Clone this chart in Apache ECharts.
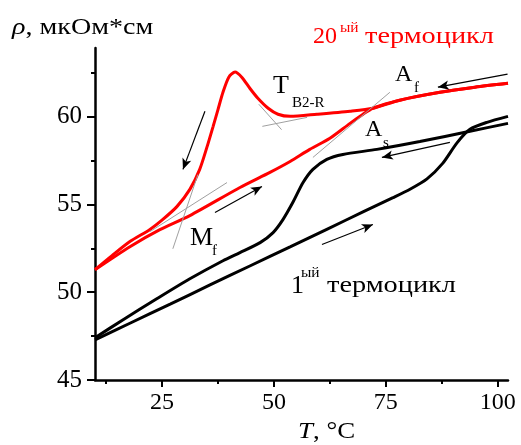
<!DOCTYPE html>
<html><head><meta charset="utf-8">
<script src="https://cdn.jsdelivr.net/npm/echarts@6/dist/echarts.min.js"></script>
<style>html,body{margin:0;padding:0;background:#fff}#c{width:521px;height:445px}</style>
</head><body><div id="c"></div>
<script>
// Axis ticks
const xTickLabels = [25, 50, 75, 100];
const xMinorTicks = [12.5, 37.5, 62.5, 87.5];
const yTickLabels = [45, 50, 55, 60];
const yMinorTicks = [47.5, 52.5, 57.5, 62.5];

// 20th thermocycle, heating (lower red branch)
const red20HeatT = [10.0, 17.8, 24.5, 31.2, 42.4, 49.1, 53.6, 58.0, 62.5, 67.0, 69.9, 72.1, 78.1, 87.1, 94.9, 102.3];
const red20HeatR = [51.28, 52.59, 53.56, 54.36, 55.96, 56.82, 57.44, 58.13, 58.76, 59.61, 60.13, 60.47, 60.93, 61.38, 61.67, 61.89];
// 20th thermocycle, cooling (upper red branch with peak)
const red20CoolT = [102.3, 94.9, 87.1, 78.1, 72.1, 67.0, 59.6, 53.6, 50.9, 48.7, 46.4, 44.6, 42.8, 41.3, 39.9, 38.6, 37.5, 36.4, 35.0, 33.4, 31.2, 28.3, 25.1, 22.2, 17.8, 13.8, 10.0];
const red20CoolR = [61.89, 61.67, 61.38, 60.93, 60.47, 60.30, 60.13, 60.01, 60.13, 60.47, 61.04, 61.61, 62.24, 62.53, 62.24, 61.38, 60.41, 59.44, 58.24, 56.99, 55.85, 54.87, 54.13, 53.56, 52.88, 52.08, 51.28];

// 1st thermocycle, heating (lower black branch)
const blk1HeatT = [10.0, 17.8, 26.8, 35.7, 44.6, 53.6, 61.8, 70.0, 76.6, 80.4, 84.2, 87.7, 90.9, 93.8, 97.6, 102.3];
const blk1HeatR = [47.28, 48.23, 49.32, 50.41, 51.49, 52.58, 53.58, 54.58, 55.38, 55.86, 56.45, 57.33, 58.50, 59.27, 59.67, 60.01];
// 1st thermocycle, cooling (upper black branch)
const blk1CoolT = [102.3, 93.8, 82.6, 73.0, 65.4, 61.8, 58.7, 56.5, 54.2, 52.0, 49.8, 46.9, 42.4, 38.6, 31.2, 23.8, 16.2, 10.0];
const blk1CoolR = [59.61, 59.16, 58.58, 58.13, 57.84, 57.56, 56.99, 56.24, 55.10, 54.13, 53.39, 52.82, 52.25, 51.79, 50.76, 49.62, 48.42, 47.40];

// Tangent construction lines [T1, R1, T2, R2]
const tangentLines = [
  [33.0, 56.7, 27.4, 52.47],
  [39.5, 56.24, 22.3, 53.45],
  [46.6, 60.7, 51.7, 59.25],
  [47.4, 59.44, 57.4, 59.95],
  [58.7, 57.67, 75.9, 61.38]
];
// Direction arrows [T1, R1, T2, R2]
const arrows = [
  [34.57, 60.30, 29.66, 56.99],
  [36.81, 54.53, 47.31, 56.02],
  [102.2, 62.41, 86.63, 61.67],
  [89.31, 58.53, 74.12, 57.67],
  [60.72, 52.71, 72.11, 53.85]
];

const zip = (a, b) => a.map((v, i) => [v, b[i]]);
const FONT = 'Liberation Serif';

const chart = echarts.init(document.getElementById('c'), null, {renderer: 'canvas'});
const gridRect = {left: 95, right: 13, top: 48, bottom: 65};
const lineSeries = (name, data, color, extra) => Object.assign({
  name, type: 'line', data, showSymbol: false, smooth: 0.25,
  lineStyle: {color, width: 3}, itemStyle: {color}, silent: true, z: 3
}, extra || {});
const txt = (x, y, text, size, color, sx, rich) => ({
  type: 'text', x, y, scaleX: sx || 1, silent: true,
  style: Object.assign({text, font: size + 'px ' + FONT, fill: color, verticalAlign: 'middle'}, rich ? {rich} : {})
});
const italic = {i: {fontStyle: 'italic', fontFamily: FONT, fontSize: 24}};

chart.setOption({
  animation: false,
  backgroundColor: '#fff',
  grid: [Object.assign({}, gridRect), Object.assign({}, gridRect)],
  xAxis: [{
    type: 'value', gridIndex: 0, min: 10, max: 102.3,
    axisLine: {show: true, onZero: false, lineStyle: {color: '#000', width: 2.5}},
    axisTick: {show: true, customValues: xTickLabels, length: 7, lineStyle: {color: '#000', width: 2}},
    axisLabel: {customValues: xTickLabels, color: '#000', fontFamily: FONT, fontSize: 24, margin: 11},
    splitLine: {show: false}
  }, {
    type: 'value', gridIndex: 1, min: 10, max: 102.3,
    axisLine: {show: false},
    axisTick: {show: true, customValues: xMinorTicks, length: 4, lineStyle: {color: '#000', width: 2}},
    axisLabel: {show: false}, splitLine: {show: false}
  }],
  yAxis: [{
    type: 'value', gridIndex: 0, min: 45, max: 63.9,
    axisLine: {show: true, onZero: false, lineStyle: {color: '#000', width: 2.5}},
    axisTick: {show: true, customValues: yTickLabels, length: 8, lineStyle: {color: '#000', width: 2}},
    axisLabel: {customValues: yTickLabels, color: '#000', fontFamily: FONT, fontSize: 25, margin: 13},
    splitLine: {show: false}
  }, {
    type: 'value', gridIndex: 1, min: 45, max: 63.9,
    axisLine: {show: false},
    axisTick: {show: true, customValues: yMinorTicks, length: 4, lineStyle: {color: '#000', width: 2}},
    axisLabel: {show: false}, splitLine: {show: false}
  }],
  series: [
    lineSeries('blk1Heat', zip(blk1HeatT, blk1HeatR), '#000', {
      markLine: {
        silent: true, animation: false, label: {show: false},
        data: tangentLines.map(l => [
          {coord: [l[0], l[1]], symbol: 'none', lineStyle: {color: '#a0a0a0', width: 1, type: 'solid'}},
          {coord: [l[2], l[3]], symbol: 'none'}
        ]).concat(arrows.map(a => [
          {coord: [a[0], a[1]], symbol: 'none', lineStyle: {color: '#000', width: 1.2, type: 'solid'}},
          {coord: [a[2], a[3]], symbol: 'arrow', symbolSize: [7, 11]}
        ])),
        emphasis: {disabled: true}
      }
    }),
    lineSeries('blk1Cool', zip(blk1CoolT, blk1CoolR), '#000'),
    lineSeries('red20Heat', zip(red20HeatT, red20HeatR), '#ff0000', {z: 4}),
    lineSeries('red20Cool', zip(red20CoolT, red20CoolR), '#ff0000', {z: 4})
  ],
  graphic: [
    txt(12, 28, '{i|ρ}, мкОм*см', 24, '#000', 1.17, italic),
    txt(313, 37, '20', 24, '#ff0000'),
    txt(340, 28, 'ый', 14, '#ff0000', 1.1),
    txt(365, 37, 'термоцикл', 24, '#ff0000', 1.18),
    txt(273, 86, 'T', 26, '#000'),
    txt(292, 103, 'B2-R', 15, '#000'),
    txt(395, 75, 'A', 24, '#000'),
    txt(414, 88, 'f', 15, '#000'),
    txt(365, 130, 'A', 24, '#000'),
    txt(383, 143, 's', 15, '#000'),
    txt(190, 238, 'M', 26, '#000'),
    txt(212, 251, 'f', 15, '#000'),
    txt(291, 286, '1', 26, '#000'),
    txt(301, 273, 'ый', 14, '#000', 1.1),
    txt(327, 286, 'термоцикл', 24, '#000', 1.18),
    txt(298, 432, '{i|T}, °C', 24, '#000', 1.12, italic)
  ]
});
</script>
</body></html>
